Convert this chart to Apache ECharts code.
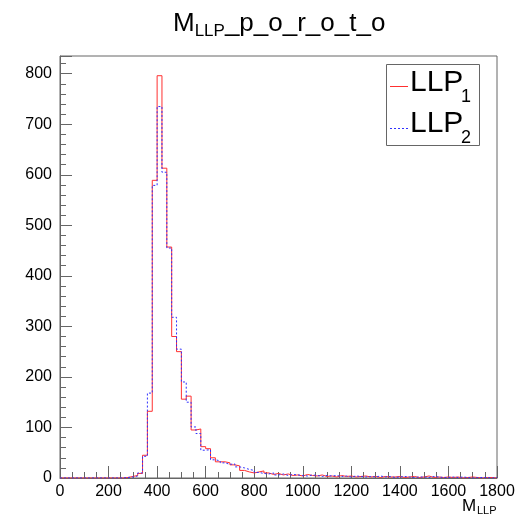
<!DOCTYPE html>
<html>
<head>
<meta charset="utf-8">
<script src="https://cdn.jsdelivr.net/npm/echarts@6/dist/echarts.min.js"></script>
<style>
html, body { margin: 0; padding: 0; background: #fff; }
#chart { width: 520px; height: 520px; }
</style>
</head>
<body>
<div id="chart"></div>
<script>
// histogram binning (bins of 20 from 0 to 1800)
var binStart = 0;
var binWidth = 20;

// LLP1 counts per bin
var llp1Counts = [
    0, 0, 0, 0, 0, 0, 0, 0, 0, 0, 0, 0,
    0, 1, 3, 5, 9, 45, 132, 589, 796, 613,
    457, 280, 250, 156, 162, 95, 97, 62, 58, 40,
    32, 32, 30, 26, 24, 15, 12, 10, 12, 14,
    10, 7, 9, 6, 8, 5, 6, 4, 7, 5,
    4, 6, 3, 4, 2, 5, 3, 4, 2, 3,
    4, 2, 3, 1, 3, 2, 2, 3, 1, 2,
    3, 1, 2, 4, 1, 2, 1, 2, 1, 2,
    0, 1, 2, 1, 0, 1, 1, 0
];

// LLP2 counts per bin
var llp2Counts = [
    0, 0, 0, 0, 0, 0, 0, 0, 0, 0, 0, 0,
    0, 1, 2, 4, 10, 43, 168, 579, 735, 605,
    455, 318, 255, 190, 150, 101, 88, 55, 56, 36,
    34, 30, 27, 28, 22, 20, 17, 15, 11, 9,
    8, 10, 6, 8, 5, 7, 6, 5, 4, 6,
    5, 3, 5, 4, 5, 3, 4, 2, 4, 3,
    2, 3, 2, 4, 2, 3, 1, 2, 3, 2,
    1, 2, 2, 1, 3, 2, 1, 1, 2, 1,
    2, 1, 0, 1, 1, 1, 0, 1
];

// axes
var xMin = 0, xMax = 1800, xStep = 200;
var yMin = 0, yMax = 835, yStep = 100;

function toSteps(counts) {
    var pts = [];
    for (var i = 0; i < counts.length; i++) {
        pts.push([binStart + i * binWidth, counts[i]]);
    }
    pts.push([binStart + counts.length * binWidth, counts[counts.length - 1]]);
    return pts;
}

var font = 'Liberation Sans, Arial, sans-serif';
var frameColor = '#666';

var chart = echarts.init(document.getElementById('chart'));

var option = {
    animation: false,
    backgroundColor: '#fff',
    title: {
        text: '{m|M}{s|LLP}{m|_p_o_r_o_t_o}',
        left: 168,
        top: 2,
        textStyle: {
            fontFamily: font,
            fontWeight: 'normal',
            rich: {
                m: { fontFamily: font, fontSize: 26, fontWeight: 'normal', color: '#000' },
                s: { fontFamily: font, fontSize: 17, fontWeight: 'normal', color: '#000', padding: [16, 0, 0, 0] }
            }
        }
    },
    grid: {
        left: 60,
        right: 23,
        top: 56,
        bottom: 42,
        show: true,
        borderColor: frameColor,
        borderWidth: 1
    },
    xAxis: {
        type: 'value',
        min: xMin,
        max: xMax,
        interval: xStep,
        axisLine: { show: true, onZero: false, lineStyle: { color: frameColor } },
        axisTick: { show: true, inside: true, length: 12, lineStyle: { color: frameColor } },
        minorTick: { show: true, splitNumber: 4, length: 6, lineStyle: { color: frameColor } },
        axisLabel: {
            color: '#000', fontFamily: font, fontSize: 16, margin: 6,
            formatter: function (v) { return String(v); }
        },
        splitLine: { show: false }
    },
    yAxis: {
        type: 'value',
        min: yMin,
        max: yMax,
        interval: yStep,
        axisLine: { show: true, lineStyle: { color: frameColor } },
        axisTick: { show: true, inside: true, length: 12, lineStyle: { color: frameColor } },
        minorTick: { show: true, splitNumber: 5, length: 6, lineStyle: { color: frameColor } },
        axisLabel: { color: '#000', fontFamily: font, fontSize: 16, margin: 8, showMaxLabel: false },
        splitLine: { show: false }
    },
    series: [
        {
            name: 'LLP1',
            type: 'line',
            step: 'end',
            symbol: 'none',
            data: toSteps(llp1Counts),
            lineStyle: { color: '#ff3030', width: 1 }
        },
        {
            name: 'LLP2',
            type: 'line',
            step: 'end',
            symbol: 'none',
            data: toSteps(llp2Counts),
            lineStyle: { color: '#3030ff', width: 1, type: [2, 2] }
        }
    ],
    graphic: [
        // legend box
        { type: 'rect', shape: { x: 386.5, y: 64.5, width: 93, height: 81 },
          style: { fill: '#fff', stroke: frameColor, lineWidth: 1 }, z: 100 },
        { type: 'line', shape: { x1: 390, y1: 86.5, x2: 408, y2: 86.5 },
          style: { stroke: '#ff3030', lineWidth: 1 }, z: 101 },
        { type: 'line', shape: { x1: 390, y1: 128.5, x2: 408, y2: 128.5 },
          style: { stroke: '#3030ff', lineWidth: 1, lineDash: [2, 2] }, z: 101 },
        { type: 'text', x: 410, y: 83, z: 101,
          style: { text: 'LLP', font: '30px ' + font, fill: '#000', verticalAlign: 'middle' } },
        { type: 'text', x: 461, y: 97, z: 101,
          style: { text: '1', font: '18px ' + font, fill: '#000', verticalAlign: 'middle' } },
        { type: 'text', x: 410, y: 124, z: 101,
          style: { text: 'LLP', font: '30px ' + font, fill: '#000', verticalAlign: 'middle' } },
        { type: 'text', x: 461, y: 138, z: 101,
          style: { text: '2', font: '18px ' + font, fill: '#000', verticalAlign: 'middle' } },
        // x axis title
        { type: 'text', x: 462, y: 506, z: 101,
          style: { text: 'M', font: '17px ' + font, fill: '#000', verticalAlign: 'middle' } },
        { type: 'text', x: 477, y: 511, z: 101,
          style: { text: 'LLP', font: '11px ' + font, fill: '#000', verticalAlign: 'middle' } }
    ]
};

chart.setOption(option);
</script>
</body>
</html>
